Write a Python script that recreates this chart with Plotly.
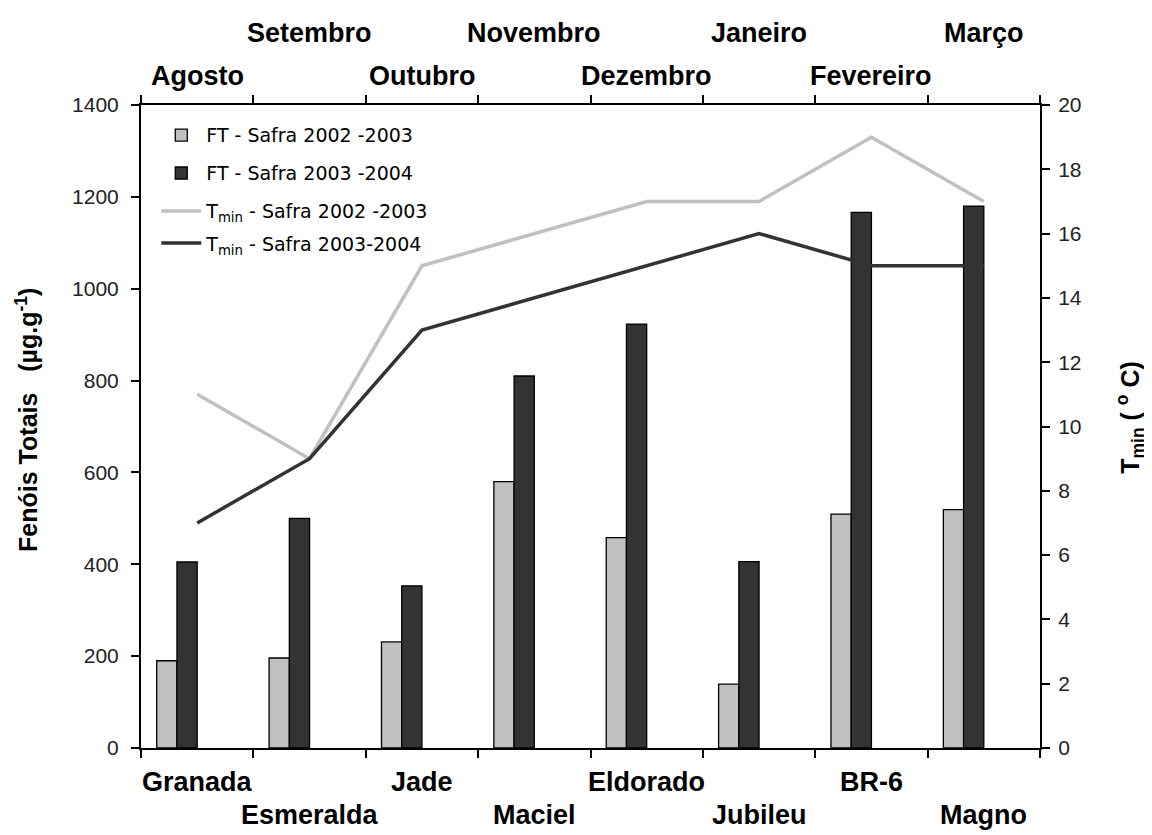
import plotly.graph_objects as go

cultivars = ["Granada", "Esmeralda", "Jade", "Maciel", "Eldorado", "Jubileu", "BR-6", "Magno"]
months = ["Agosto", "Setembro", "Outubro", "Novembro", "Dezembro", "Janeiro", "Fevereiro", "Março"]
ft_2002_2003 = [190, 196, 231, 580, 458, 139, 509, 519]
ft_2003_2004 = [405, 500, 353, 810, 923, 406, 1166, 1180]
tmin_2002_2003 = [11, 9, 15, 16, 17, 17, 19, 17]
tmin_2003_2004 = [7, 9, 13, 14, 15, 16, 15, 15]

LIGHT = "#c0c0c0"
DARK = "#333333"
BOLDF = "Liberation Sans Narrow, Arial Narrow, Liberation Sans, Arial, sans-serif"
REG = "Liberation Sans, Arial, sans-serif"
LEGF = "DejaVu Sans, Verdana, sans-serif"

fig = go.Figure()
fig.add_trace(go.Bar(x=cultivars, y=ft_2002_2003, name="FT - Safra 2002 -2003",
                     marker=dict(color=LIGHT, line=dict(color="black", width=1.3)),
                     offset=-0.36, width=0.18, legend="legend"))
fig.add_trace(go.Bar(x=cultivars, y=ft_2003_2004, name="FT - Safra 2003 -2004",
                     marker=dict(color=DARK, line=dict(color="black", width=1.3)),
                     offset=-0.18, width=0.18, legend="legend2"))
fig.add_trace(go.Scatter(x=cultivars, y=tmin_2002_2003, yaxis="y2", mode="lines",
                         name="T<sub>min</sub> - Safra 2002 -2003",
                         line=dict(color=LIGHT, width=3.5), legend="legend3"))
fig.add_trace(go.Scatter(x=cultivars, y=tmin_2003_2004, yaxis="y2", mode="lines",
                         name="T<sub>min</sub> - Safra 2003-2004",
                         line=dict(color=DARK, width=3.5), legend="legend4"))

annotations = []
for i, c in enumerate(cultivars):
    annotations.append(dict(x=c, xref="x", y=-0.053 if i % 2 == 0 else -0.104, yref="paper",
                            text=c, showarrow=False, yanchor="middle", xanchor="center",
                            font=dict(family=BOLDF, size=27, color="black", weight="bold")))
for i, m in enumerate(months):
    annotations.append(dict(x=cultivars[i], xref="x", y=1.045 if i % 2 == 0 else 1.112, yref="paper",
                            text=m, showarrow=False, yanchor="middle", xanchor="center",
                            font=dict(family=BOLDF, size=27, color="black", weight="bold")))
annotations.append(dict(x=-0.127, xref="paper", y=0.51, yref="paper", textangle=-90,
                        xanchor="center", yanchor="middle",
                        text="Fenóis Totais&nbsp;&nbsp; (µg.g<sup>-1</sup>)", showarrow=False,
                        font=dict(family=REG, size=25, color="black", weight="bold")))
annotations.append(dict(x=1.1, xref="paper", y=0.515, yref="paper", textangle=-90,
                        xanchor="center", yanchor="middle",
                        text="T<sub>min</sub> (&nbsp;<sup>o</sup>&nbsp;C)", showarrow=False,
                        font=dict(family=REG, size=25, color="black", weight="bold")))

leg_common = dict(x=0.017, xanchor="left", yanchor="middle", bgcolor="rgba(0,0,0,0)",
                  font=dict(family=LEGF, size=19, color="black"), itemwidth=40)

fig.update_layout(
    width=1152, height=835,
    margin=dict(l=133, r=120, t=97, b=95),
    paper_bgcolor="white", plot_bgcolor="white",
    barmode="overlay",
    showlegend=True,
    legend=dict(y=0.953, **leg_common),
    legend2=dict(y=0.894, **leg_common),
    legend3=dict(y=0.835, **leg_common),
    legend4=dict(y=0.785, **leg_common),
    xaxis=dict(type="category", tickson="boundaries", ticks="outside", ticklen=8,
               tickcolor="black", tickwidth=1.5, showticklabels=False,
               showline=True, linecolor="black", linewidth=2, mirror="allticks",
               showgrid=False, range=[-0.5, 7.5]),
    yaxis=dict(range=[0, 1400], dtick=200, ticks="outside", ticklen=8, tickcolor="black",
               tickwidth=1.5, showline=True, linecolor="black", linewidth=2, showgrid=False,
               zeroline=False, ticklabelstandoff=8,
               tickfont=dict(family=REG, size=21, color="#222")),
    yaxis2=dict(range=[0, 20], dtick=2, overlaying="y", side="right", ticks="outside",
                ticklen=8, tickcolor="black", tickwidth=1.5, showline=True, linecolor="black",
                linewidth=2, showgrid=False, zeroline=False, ticklabelstandoff=4,
                tickfont=dict(family=REG, size=21, color="#222")),
    annotations=annotations,
)

fig.write_html("out.html")
